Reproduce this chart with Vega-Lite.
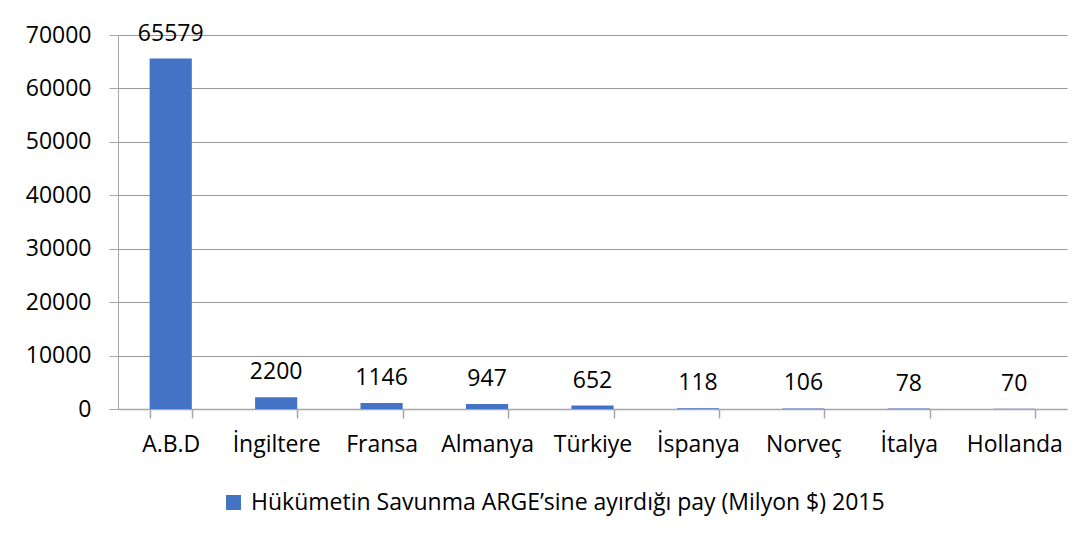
{
  "$schema": "https://vega.github.io/schema/vega-lite/v6.json",
  "width": 949,
  "height": 374,
  "autosize": {"type": "none"},
  "padding": {"left": 118, "top": 35, "right": 19, "bottom": 128},
  "background": "white",
  "config": {
    "view": {"stroke": null},
    "font": "Open Sans"
  },
  "data": {
    "values": [
      {"ulke": "A.B.D", "deger": 65579, "seri": "Hükümetin Savunma ARGE’sine ayırdığı pay (Milyon $) 2015"},
      {"ulke": "İngiltere", "deger": 2200, "seri": "Hükümetin Savunma ARGE’sine ayırdığı pay (Milyon $) 2015"},
      {"ulke": "Fransa", "deger": 1146, "seri": "Hükümetin Savunma ARGE’sine ayırdığı pay (Milyon $) 2015"},
      {"ulke": "Almanya", "deger": 947, "seri": "Hükümetin Savunma ARGE’sine ayırdığı pay (Milyon $) 2015"},
      {"ulke": "Türkiye", "deger": 652, "seri": "Hükümetin Savunma ARGE’sine ayırdığı pay (Milyon $) 2015"},
      {"ulke": "İspanya", "deger": 118, "seri": "Hükümetin Savunma ARGE’sine ayırdığı pay (Milyon $) 2015"},
      {"ulke": "Norveç", "deger": 106, "seri": "Hükümetin Savunma ARGE’sine ayırdığı pay (Milyon $) 2015"},
      {"ulke": "İtalya", "deger": 78, "seri": "Hükümetin Savunma ARGE’sine ayırdığı pay (Milyon $) 2015"},
      {"ulke": "Hollanda", "deger": 70, "seri": "Hükümetin Savunma ARGE’sine ayırdığı pay (Milyon $) 2015"}
    ]
  },
  "encoding": {
    "x": {
      "field": "ulke",
      "type": "nominal",
      "sort": null,
      "scale": {"paddingInner": 0.6, "paddingOuter": 0.3},
      "axis": {
        "title": null,
        "labelAngle": 0,
        "labelFontSize": 23,
        "labelColor": "#000000",
        "labelPadding": 15,
        "tickBand": "extent",
        "tickSize": 9,
        "tickColor": "#A6A6A6",
        "tickWidth": 1.5,
        "domainColor": "#A6A6A6",
        "domainWidth": 1.5,
        "grid": false
      }
    },
    "y": {
      "field": "deger",
      "type": "quantitative",
      "scale": {"domain": [0, 70000], "nice": false},
      "axis": {
        "title": null,
        "values": [0, 10000, 20000, 30000, 40000, 50000, 60000, 70000],
        "format": "d",
        "labelFontSize": 23,
        "labelColor": "#000000",
        "labelPadding": 18,
        "tickSize": 9,
        "tickColor": "#A6A6A6",
        "tickWidth": 1,
        "domainColor": "#A6A6A6",
        "domainWidth": 1,
        "grid": true,
        "gridColor": "#999999",
        "gridWidth": 1
      }
    }
  },
  "layer": [
    {
      "mark": {"type": "bar"},
      "encoding": {
        "color": {
          "field": "seri",
          "type": "nominal",
          "scale": {"range": ["#4472C4"]},
          "legend": {
            "title": null,
            "orient": "none",
            "legendX": 104,
            "legendY": 456,
            "symbolType": "square",
            "symbolSize": 225,
            "symbolStrokeWidth": 0,
            "symbolOpacity": 1,
            "labelFontSize": 23,
            "labelColor": "#000000",
            "labelOffset": 6,
            "labelLimit": 1000,
            "padding": 0
          }
        }
      }
    },
    {
      "mark": {"type": "text", "dy": -18, "baseline": "alphabetic", "fontSize": 23, "color": "#000000"},
      "encoding": {
        "text": {"field": "deger", "type": "quantitative", "format": "d"}
      }
    }
  ]
}
